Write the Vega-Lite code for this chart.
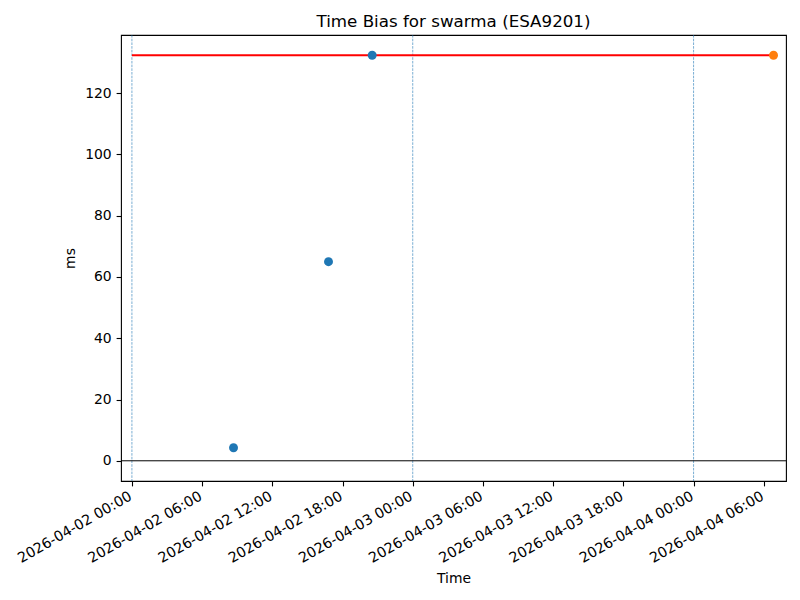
{
  "$schema": "https://vega.github.io/schema/vega-lite/v6.json",
  "autosize": {"type": "none"},
  "width": 665,
  "height": 446,
  "padding": {"left": 121, "top": 35, "right": 14, "bottom": 119},
  "background": "white",
  "title": {"text": "Time Bias for swarma (ESA9201)", "font": "DejaVu Sans", "fontSize": 16.7, "fontWeight": "normal", "color": "black", "offset": 4},
  "config": {
    "view": {"stroke": "black", "strokeWidth": 1.1},
    "axis": {
      "labelFont": "DejaVu Sans", "labelFontSize": 13.9, "labelColor": "black",
      "titleFont": "DejaVu Sans", "titleFontSize": 13.9, "titleFontWeight": "normal", "titleColor": "black",
      "domain": false, "tickColor": "black", "tickSize": 4.9, "tickWidth": 1.1, "grid": false, "labelPadding": 4.9
    },
    "axisX": {
      "format": "%Y-%m-%d %H:%M", "formatType": "utc",
      "labelAngle": -30, "labelAlign": "right", "labelBaseline": "top",
      "labelOverlap": false, "labelFlush": false, "titlePadding": 6,
      "labelOffset": -5, "labelPadding": 3, "labelFontSize": 14.3
    },
    "axisY": {"titlePadding": 7}
  },
  "datasets": {
    "points": [
      {"time": "2026-04-02T08:41:00Z", "ms": 4.25, "series": "measurement"},
      {"time": "2026-04-02T16:48:00Z", "ms": 65.0, "series": "measurement"},
      {"time": "2026-04-02T20:32:00Z", "ms": 132.4, "series": "measurement"},
      {"time": "2026-04-04T06:50:00Z", "ms": 132.4, "series": "latest"}
    ],
    "days": [
      {"time": "2026-04-02T00:00:00Z"},
      {"time": "2026-04-03T00:00:00Z"},
      {"time": "2026-04-04T00:00:00Z"}
    ],
    "level": [
      {"time": "2026-04-02T00:00:00Z", "end": "2026-04-04T06:50:00Z", "ms": 132.4}
    ],
    "zero": [{"ms": 0}]
  },
  "layer": [
    {
      "data": {"name": "days"},
      "mark": {"type": "rule", "color": "#1f77b4", "strokeWidth": 0.7, "strokeDash": [2.6, 1.1], "opacity": 0.85},
      "encoding": {
        "x": {
          "field": "time", "type": "temporal", "title": "Time",
          "scale": {"type": "utc", "domain": ["2026-04-01T23:04:00Z", "2026-04-04T07:54:00Z"], "nice": false},
          "axis": {
            "format": "%Y-%m-%d %H:%M", "formatType": "utc",
            "values": [
              {"year": 2026, "month": 4, "date": 2, "hours": 0, "utc": true},
              {"year": 2026, "month": 4, "date": 2, "hours": 6, "utc": true},
              {"year": 2026, "month": 4, "date": 2, "hours": 12, "utc": true},
              {"year": 2026, "month": 4, "date": 2, "hours": 18, "utc": true},
              {"year": 2026, "month": 4, "date": 3, "hours": 0, "utc": true},
              {"year": 2026, "month": 4, "date": 3, "hours": 6, "utc": true},
              {"year": 2026, "month": 4, "date": 3, "hours": 12, "utc": true},
              {"year": 2026, "month": 4, "date": 3, "hours": 18, "utc": true},
              {"year": 2026, "month": 4, "date": 4, "hours": 0, "utc": true},
              {"year": 2026, "month": 4, "date": 4, "hours": 6, "utc": true}
            ]
          }
        }
      }
    },
    {
      "data": {"name": "zero"},
      "mark": {"type": "rule", "color": "black", "strokeWidth": 1},
      "encoding": {
        "y": {
          "field": "ms", "type": "quantitative", "title": "ms",
          "scale": {"domain": [-6.6, 139.0], "nice": false, "zero": false},
          "axis": {"values": [0, 20, 40, 60, 80, 100, 120]}
        }
      }
    },
    {
      "data": {"name": "level"},
      "mark": {"type": "rule", "color": "red", "strokeWidth": 2.1},
      "encoding": {
        "x": {"field": "time", "type": "temporal", "title": "Time", "axis": {"format": "%Y-%m-%d %H:%M", "formatType": "utc"}},
        "x2": {"field": "end"},
        "y": {"field": "ms", "type": "quantitative"}
      }
    },
    {
      "data": {"name": "points"},
      "mark": {"type": "circle", "size": 80, "opacity": 1},
      "encoding": {
        "x": {"field": "time", "type": "temporal", "title": "Time", "axis": {"format": "%Y-%m-%d %H:%M", "formatType": "utc"}},
        "y": {"field": "ms", "type": "quantitative"},
        "color": {"field": "series", "type": "nominal", "scale": {"domain": ["measurement", "latest"], "range": ["#1f77b4", "#ff7f0e"]}, "legend": null}
      }
    }
  ]
}
